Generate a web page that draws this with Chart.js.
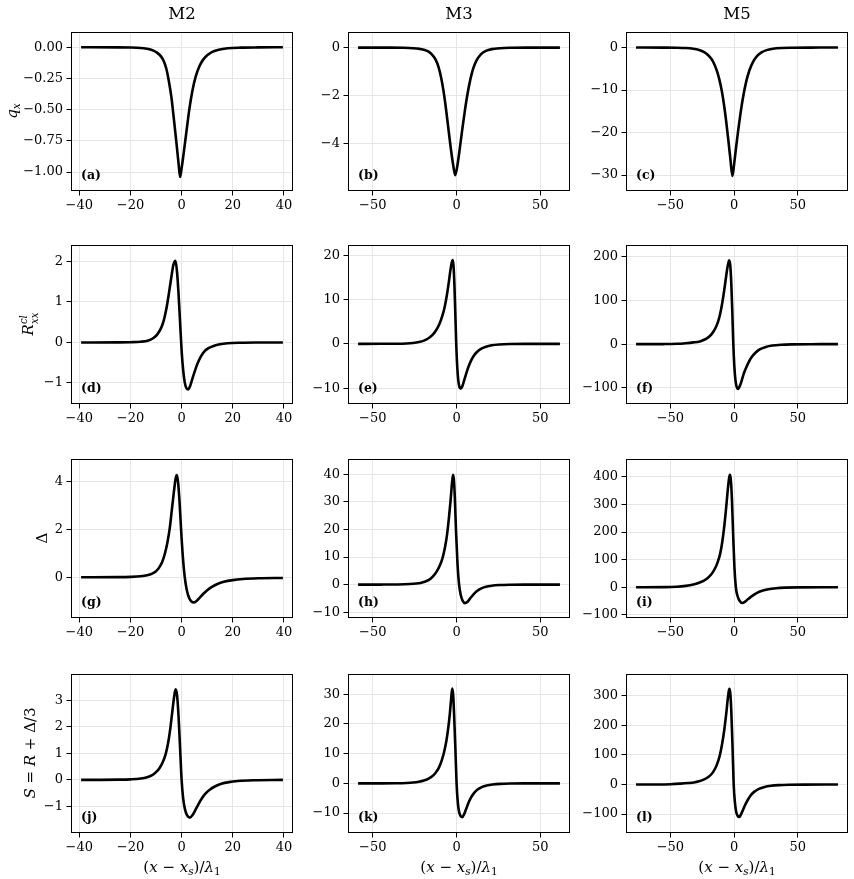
<!DOCTYPE html>
<html><head><meta charset="utf-8">
<script src="https://cdn.jsdelivr.net/npm/chart.js@4.4.1/dist/chart.umd.min.js"></script>
<style>
html,body{margin:0;padding:0;background:#fff;width:854px;height:879px;overflow:hidden;}
body{position:relative;font-family:"DejaVu Serif",serif;color:#000;}
canvas{position:absolute;}
.t{position:absolute;transform:translate(-50%,-50%);white-space:nowrap;line-height:1;}
.title{font-size:16.5px;}
.yl{font-size:15px;transform:translate(-50%,-50%) rotate(-90deg);}
.xl{font-size:15px;}
.pl{position:absolute;font-size:12.5px;font-weight:bold;transform:translateY(-50%);line-height:1;white-space:nowrap;}
sub{font-size:0.7em;vertical-align:-0.3em;line-height:0;}
.ss{display:inline-block;vertical-align:-0.5em;font-size:0.68em;line-height:1.05;font-style:italic;}
.ss span{display:block;}
</style></head><body>
<script>
// ---------- tick labels ----------
const xTicksM2 = [-40, -20, 0, 20, 40];
const xTicksM3 = [-50, 0, 50];
const xTicksM5 = [-50, 0, 50];
const yTicksA = [0, -0.25, -0.5, -0.75, -1];
const yTicksB = [0, -2, -4];
const yTicksC = [0, -10, -20, -30];
const yTicksD = [-1, 0, 1, 2];
const yTicksE = [-10, 0, 10, 20];
const yTicksF = [-100, 0, 100, 200];
const yTicksG = [0, 2, 4];
const yTicksH = [-10, 0, 10, 20, 30, 40];
const yTicksI = [-100, 0, 100, 200, 300, 400];
const yTicksJ = [-1, 0, 1, 2, 3];
const yTicksK = [-10, 0, 10, 20, 30];
const yTicksL = [-100, 0, 100, 200, 300];

// ---------- categories ----------
const models = ['M2', 'M3', 'M5'];
const panelLetters = ['a','b','c','d','e','f','g','h','i','j','k','l'];

// ---------- series values ----------
// (a) M2 q_x
const xA = [-39.3,-25,-20,-16,-13,-11,-9.5,-8,-7,-6,-5,-4,-3,-2,-1.2,-0.6,0,0.8,1.8,3,4.2,5.5,7,8.5,10,12,14.5,18,23,30,39.6];
const yA = [0,-0.0005,-0.002,-0.006,-0.014,-0.027,-0.045,-0.075,-0.11,-0.17,-0.27,-0.4,-0.58,-0.77,-0.93,-1.04,-0.97,-0.85,-0.69,-0.5,-0.35,-0.235,-0.15,-0.097,-0.064,-0.037,-0.019,-0.008,-0.003,-0.001,0];
// (b) M3 q_x
const xB = [-58.8,-40,-32,-26,-22,-19,-16.5,-14.5,-12.5,-10.8,-9.2,-7.8,-6.4,-5,-3.6,-2.2,-0.8,0.6,2,3.5,5,6.6,8.3,10,12,14.5,17.5,21,26,33,42,61.7];
const yB = [0,-0.002,-0.008,-0.025,-0.055,-0.1,-0.18,-0.3,-0.5,-0.8,-1.25,-1.8,-2.5,-3.3,-4.1,-4.8,-5.3,-4.85,-4.15,-3.35,-2.6,-1.9,-1.3,-0.85,-0.52,-0.28,-0.14,-0.065,-0.025,-0.008,-0.002,0];
// (c) M5 q_x
const xC = [-77,-55,-45,-38,-32,-27.5,-23.5,-20.5,-18,-15.7,-13.5,-11.5,-9.6,-7.8,-6.1,-4.5,-2.9,-1.3,0.2,1.7,3.3,5,7,9.3,12,15,18,21.5,25.5,30.5,37,46,60,81.6];
const yC = [0,-0.01,-0.04,-0.12,-0.3,-0.6,-1.1,-1.75,-2.6,-3.8,-5.5,-7.6,-10.3,-13.7,-17.6,-21.8,-26.2,-30.2,-27,-23.2,-19.3,-15.6,-11.8,-8.3,-5.4,-3.3,-2,-1.15,-0.6,-0.28,-0.1,-0.03,-0.005,0];
// (d) M2 R
const xD = [-39.3,-25,-20,-16,-13,-11,-9.5,-8,-7,-6,-5,-4,-3.2,-2.4,-1.8,-1.2,-0.6,0,0.6,1.2,1.8,2.5,3.3,4.2,5.2,6.3,7.5,9,10.5,12.5,15,18,23,30,39.6];
const yD = [0,0.002,0.006,0.018,0.05,0.11,0.2,0.36,0.54,0.82,1.2,1.62,1.92,2.02,1.75,1.2,0.5,-0.2,-0.68,-0.98,-1.12,-1.16,-1.08,-0.9,-0.7,-0.51,-0.35,-0.215,-0.14,-0.085,-0.045,-0.02,-0.006,-0.001,0];
// (e) M3 R
const xE = [-58.8,-45,-36,-30,-26,-22.5,-19.5,-17,-14.5,-12.3,-10.3,-8.5,-7,-5.7,-4.6,-3.6,-2.9,-2.3,-1.8,-1.3,-0.8,-0.2,0.4,1,1.7,2.5,3.4,4.5,5.7,7,8.5,10.2,12,14.5,17.5,21,25.5,32,42,61.7];
const yE = [0,0.005,0.03,0.09,0.2,0.4,0.72,1.2,1.95,3,4.4,6.3,8.5,11.2,14,16.8,18.3,18.9,17.5,13.5,7.5,0,-5.2,-8.2,-9.7,-10.1,-9.6,-8.3,-6.8,-5.3,-3.9,-2.75,-1.9,-1.15,-0.65,-0.33,-0.15,-0.05,-0.012,0];
// (f) M5 R
const xF = [-77,-55,-45,-38,-32,-27,-24,-21.7,-19.5,-17.5,-15.5,-13.5,-11.8,-10.3,-9,-7.8,-6.6,-5.5,-4.6,-3.9,-3,-2.2,-1.4,-0.6,0.2,1,1.9,3.1,4.3,5.7,7.3,9.3,11.5,14,17,20.5,25,30,37,46,60,81.6];
const yF = [0,0.2,0.8,2.2,4,6.2,9.5,12.8,17.5,23.5,32,44,59,78,99,122,147,170,184,191.7,180,140,75,0,-50,-80,-96,-102,-97,-86,-70,-55,-41,-29,-19,-11.5,-6.3,-3.2,-1.3,-0.4,-0.05,0];
// (g) M2 Delta
const xG = [-39.3,-25,-20,-16,-13.5,-11.5,-10,-8.8,-7.6,-6.5,-5.5,-4.6,-3.8,-3,-2.4,-1.9,-1.4,-0.8,-0.2,0.5,1.2,2,3,4,4.8,5.8,7,8.5,10,12,14,16.5,20,24,30,39.6];
const yG = [0.02,0.025,0.035,0.06,0.1,0.17,0.27,0.42,0.66,1.02,1.5,2.1,2.85,3.6,4.1,4.28,4,3.15,2,0.85,0.05,-0.5,-0.86,-1.01,-1.03,-0.97,-0.84,-0.67,-0.52,-0.37,-0.26,-0.17,-0.1,-0.055,-0.025,-0.01];
// (h) M3 Delta
const xH = [-58.8,-45,-35,-28,-24,-21.5,-19,-16.5,-14.2,-12,-10,-8.3,-6.9,-5.6,-4.5,-3.5,-2.7,-2.1,-1.6,-1,-0.3,0.6,1.5,2.5,3.6,5,6.4,8,10,12,14.5,17.5,21,25.5,32,42,61.7];
const yH = [0,0.01,0.06,0.2,0.38,0.6,1,1.7,2.9,4.6,6.9,9.8,13.5,18.5,24.5,31,37,39.8,38,31,19,7,0,-3.8,-5.8,-6.7,-6.3,-5.1,-3.6,-2.4,-1.45,-0.8,-0.4,-0.17,-0.05,-0.01,0];
// (i) M5 Delta
const xI = [-77,-55,-45,-38,-32,-27,-21.7,-18,-15,-12.8,-11,-9.3,-7.6,-6.3,-5.2,-4.2,-3.4,-2.6,-1.7,-0.8,0.3,1.4,2.6,4.2,6.5,8.7,11,14,17.7,22,27,33,40,50,81.6];
const yI = [0,0.5,2,5,10,17,30,46,68,92,120,163,225,285,340,385,407,392,320,200,70,0,-30,-48,-57,-52,-43,-32,-21,-12.5,-7,-3.5,-1.5,-0.4,0];
// (j) M2 S
const xJ = [-39.3,-25,-20,-16,-13.5,-11.5,-10,-8.6,-7.4,-6.3,-5.3,-4.4,-3.6,-2.9,-2.35,-1.8,-1.2,-0.6,0,0.6,1.3,2.1,3.2,4.2,5.3,6.5,8,9.5,11,13,15.5,18.5,22,28,39.6];
const yJ = [0,0.008,0.02,0.05,0.1,0.18,0.29,0.45,0.66,0.95,1.38,1.95,2.6,3.15,3.41,3.2,2.4,1.2,0,-0.7,-1.1,-1.33,-1.42,-1.33,-1.15,-0.93,-0.68,-0.5,-0.37,-0.25,-0.15,-0.085,-0.045,-0.015,0];
// (k) M3 S
const xK = [-58.8,-45,-36,-30,-26,-22.5,-19.5,-17,-14.7,-12.6,-10.6,-8.8,-7.3,-6,-5,-4.1,-3.3,-2.6,-2,-1.4,-0.7,0,0.8,1.6,2.5,3.4,4.4,5.6,7,8.6,10.4,12.5,15,18,21.5,26,32,42,61.7];
const yK = [0,0.01,0.05,0.14,0.28,0.55,0.95,1.5,2.3,3.5,5.2,7.8,10.9,14.6,18.5,23,28,31.9,29.5,22,11.5,0,-6.8,-9.8,-11.1,-11.4,-10.5,-8.8,-6.7,-4.8,-3.3,-2.1,-1.25,-0.7,-0.37,-0.17,-0.06,-0.015,0];
// (l) M5 S
const xL = [-77,-60,-50,-42,-36,-31.6,-27.5,-23.5,-19.7,-16.5,-13.8,-11.3,-9.3,-7.6,-6.2,-5,-4.2,-3.7,-3,-2.2,-1.3,-0.3,0.7,1.7,2.8,3.9,5.1,6.6,8.4,10.5,13,16,19.5,24,29,35,43,55,81.6];
const yL = [0,0.3,1.2,3,5,7,11,17.5,27,42,64,97,140,188,238,288,315,323.6,310,250,140,0,-62,-93,-106,-110,-104,-90,-72,-54,-37,-24,-14.5,-8,-4.3,-2.1,-0.8,-0.15,0];

// ---------- panel setup ----------
const panels = [
  {x:xA,y:yA,yt:yTicksA,ymin:-1.152,ymax:0.12,dec:2},
  {x:xB,y:yB,yt:yTicksB,ymin:-5.96,ymax:0.635,dec:0},
  {x:xC,y:yC,yt:yTicksC,ymin:-33.75,ymax:3.59,dec:0},
  {x:xD,y:yD,yt:yTicksD,ymin:-1.52,ymax:2.40,dec:0},
  {x:xE,y:yE,yt:yTicksE,ymin:-13.58,ymax:22.24,dec:0},
  {x:xF,y:yF,yt:yTicksF,ymin:-136.6,ymax:225.7,dec:0},
  {x:xG,y:yG,yt:yTicksG,ymin:-1.68,ymax:4.94,dec:0},
  {x:xH,y:yH,yt:yTicksH,ymin:-12.1,ymax:45.4,dec:0},
  {x:xI,y:yI,yt:yTicksI,ymin:-111.4,ymax:463.5,dec:0},
  {x:xJ,y:yJ,yt:yTicksJ,ymin:-2.0,ymax:3.975,dec:0},
  {x:xK,y:yK,yt:yTicksK,ymin:-16.7,ymax:36.7,dec:0},
  {x:xL,y:yL,yt:yTicksL,ymin:-164,ymax:373,dec:0}
];
const colX = [
  {ticks:xTicksM2,min:-43.25,max:43.55},
  {ticks:xTicksM3,min:-64.8,max:67.7},
  {ticks:xTicksM5,min:-84.9,max:89.5}
];
const yLabels = [
  '<i>q</i><sub><i>x</i></sub>',
  '<i>R</i><span class="ss"><span>cl</span><span>xx</span></span>',
  '\u0394',
  '<i>S</i> = <i>R</i> + \u0394/3'
];
const xLabel = '(<i>x</i> \u2212 <i>x</i><sub><i>s</i></sub>)/<i>\u03bb</i><sub>1</sub>';

// ---------- layout ----------
const colLeft = [71, 348, 626];
const rowTop = [31, 244, 458, 673];
const AW = 222, AH = 160;
const YW = 68, XH = 30, PT = 10, PR = 6;
const yLabelX = [11.5, 30, 41.5, 30];
const GRID = '#e6e6e6';
const FONT = {family:'DejaVu Serif', size:13};

function fmt(v, dec){ const s = Math.abs(v).toFixed(dec); return (v < 0 ? '\u2212' : '') + s; }
function addText(cls, html, x, y){
  const d = document.createElement('div');
  d.className = cls; d.innerHTML = html;
  d.style.left = x + 'px'; d.style.top = y + 'px';
  document.body.appendChild(d);
}

const frame = {
  id:'frame',
  afterDraw(chart){
    const {ctx, chartArea:a} = chart;
    ctx.save();
    ctx.strokeStyle = '#000'; ctx.lineWidth = 1;
    ctx.strokeRect(Math.round(a.left)+0.5, Math.round(a.top)+0.5, Math.round(a.right-a.left)-1, Math.round(a.bottom-a.top)-1);
    ctx.restore();
  }
};

panels.forEach((p, i) => {
  const r = Math.floor(i/3), c = i % 3;
  const cx = colX[c];
  const cv = document.createElement('canvas');
  cv.width = YW + AW + PR; cv.height = PT + AH + XH;
  cv.style.left = (colLeft[c] - YW) + 'px';
  cv.style.top = (rowTop[r] - PT) + 'px';
  cv.style.width = cv.width + 'px'; cv.style.height = cv.height + 'px';
  document.body.appendChild(cv);
  new Chart(cv, {
    type:'line',
    data:{datasets:[{
      data: p.x.map((xv, k) => ({x:xv, y:p.y[k]})),
      borderColor:'#000', borderWidth:2.6, pointRadius:0,
      cubicInterpolationMode:'monotone', fill:false,
      borderCapStyle:'butt', borderJoinStyle:'round'
    }]},
    options:{
      responsive:false, animation:false, devicePixelRatio:1, events:[],
      layout:{padding:{top:PT, right:PR, left:0, bottom:0}},
      plugins:{legend:{display:false}, tooltip:{enabled:false}, title:{display:false}},
      scales:{
        x:{
          type:'linear', min:cx.min, max:cx.max,
          afterBuildTicks:s => { s.ticks = cx.ticks.map(v => ({value:v})); },
          afterFit:s => { s.height = XH; },
          ticks:{autoSkip:false, maxRotation:0, padding:2, color:'#000', font:FONT, callback:v => fmt(v, 0)},
          grid:{color:GRID, lineWidth:1, tickColor:'#000', tickLength:4.5, tickWidth:1},
          border:{display:false}
        },
        y:{
          type:'linear', min:p.ymin, max:p.ymax,
          afterBuildTicks:s => { s.ticks = p.yt.map(v => ({value:v})); },
          afterFit:s => { s.width = YW; },
          ticks:{autoSkip:false, padding:3.5, color:'#000', font:FONT, callback:v => fmt(v, p.dec)},
          grid:{color:GRID, lineWidth:1, tickColor:'#000', tickLength:4.5, tickWidth:1},
          border:{display:false}
        }
      }
    },
    plugins:[frame]
  });
  addText('pl', '(' + panelLetters[i] + ')', colLeft[c] + 10, rowTop[r] + AH - 16);
});

models.forEach((m, c) => addText('t title', m, colLeft[c] + AW/2, 13.5));
yLabels.forEach((h, r) => addText('t yl', h, yLabelX[r], rowTop[r] + AH/2));
colLeft.forEach(l => addText('t xl', xLabel, l + AW/2, 866.5));
</script>
</body></html>
